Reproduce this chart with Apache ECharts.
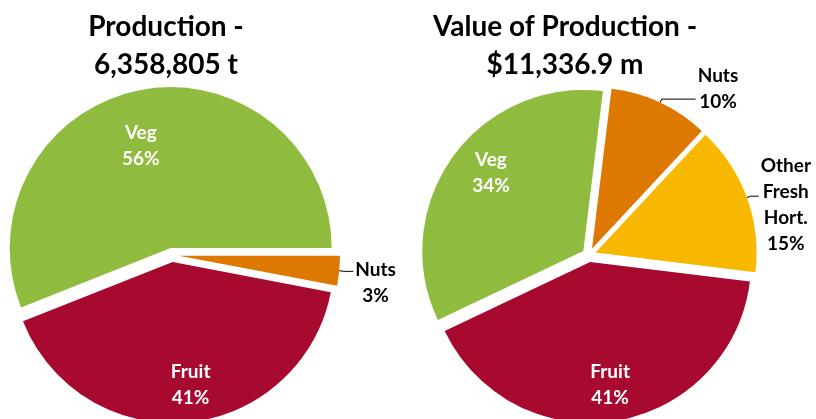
<!DOCTYPE html>
<html>
<head>
<meta charset="utf-8">
<script src="https://cdn.jsdelivr.net/npm/echarts@6/dist/echarts.min.js"></script>
<style>
  html, body { margin: 0; padding: 0; background: #fff; }
  #main { width: 816px; height: 419px; }
</style>
</head>
<body>
<div id="main"></div>
<script>
// share of production (tonnes), %
const prodNames = ['Veg', 'Fruit', 'Nuts'];
const prodShare = [56, 41, 3];
// share of value of production ($m), %
const valueNames = ['Veg', 'Fruit', 'Other Fresh Hort.', 'Nuts'];
const valueShare = [34, 41, 15, 10];
const titleTexts = ['Production -\n6,358,805 t', 'Value of Production -\n$11,336.9 m'];

const colors = {
  'Veg': '#8fbc3f',
  'Fruit': '#a8092f',
  'Nuts': '#dd7800',
  'Other Fresh Hort.': '#f8b800'
};
const insideNames = ['Veg', 'Fruit'];
const font = 'Lato';

function makePie(names, values, center, startAngle, innerR, lines) {
  const nudge = p => {
    const ln = lines[names[p.dataIndex]];
    return ln ? { dx: ln.dx || 0, dy: ln.dy || 0 } : {};
  };
  const base = {
    type: 'pie',
    radius: 161,
    center: center,
    startAngle: startAngle,
    clockwise: false,
    selectedMode: 'multiple',
    selectedOffset: 7,
    avoidLabelOverlap: false,
    animation: false,
    emphasis: { disabled: true },
    label: {
      position: 'outside',
      distanceToLabelLine: 2,
      formatter: p => p.name.split(' ').map(w => '{c|' + w + '}').join('\n') + '\n{c|' + p.value + '%}',
      rich: {
        c: { align: 'center', fontFamily: font, fontWeight: 'bold', fontSize: 19, lineHeight: 26, color: '#000' }
      }
    },
    labelLine: { lineStyle: { color: '#000', width: 1 } },
    labelLayout: nudge,
    data: names.map((n, i) => {
      const inside = insideNames.indexOf(n) >= 0;
      const ln = lines[n] || {};
      return {
        name: n,
        value: values[i],
        selected: true,
        itemStyle: { color: colors[n] },
        label: { show: !inside },
        labelLine: { show: !inside, length: ln.length, length2: ln.length2 }
      };
    })
  };
  // transparent ring that only carries the white inside labels
  const ring = {
    type: 'pie',
    radius: [innerR, 161],
    center: center,
    startAngle: startAngle,
    clockwise: false,
    selectedMode: 'multiple',
    selectedOffset: 7,
    silent: true,
    animation: false,
    itemStyle: { color: 'rgba(0,0,0,0)' },
    label: {
      position: 'inside',
      color: '#fff',
      fontFamily: font,
      fontWeight: 'bold',
      fontSize: 19,
      lineHeight: 26,
      formatter: '{b}\n{c}%'
    },
    labelLine: { show: false },
    labelLayout: nudge,
    data: names.map((n, i) => ({
      name: n,
      value: values[i],
      selected: true,
      label: { show: insideNames.indexOf(n) >= 0 }
    }))
  };
  return [base, ring];
}

const chart = echarts.init(document.getElementById('main'));
chart.setOption({
  backgroundColor: '#fff',
  title: titleTexts.map((t, i) => ({
    text: t,
    left: [166, 565][i],
    top: 8,
    padding: 0,
    textAlign: 'center',
    textStyle: { fontFamily: font, fontWeight: 'bold', fontSize: 28, lineHeight: 38, color: '#000' }
  })),
  series: [
    ...makePie(prodNames, prodShare, [172, 255], 0, 66, {
      'Veg': { dx: -8, dy: 12 },
      'Fruit': { dx: 7, dy: 7 },
      'Nuts': { length: 6, length2: 8, dy: 12 }
    }),
    ...makePie(valueNames, valueShare, [589, 255], 83, 83, {
      'Veg': { dx: 9, dy: -5 },
      'Nuts': { length: 4, length2: 34, dy: -10 },
      'Other Fresh Hort.': { length: 4, length2: 8, dy: 9 }
    })
  ]
});
</script>
</body>
</html>
